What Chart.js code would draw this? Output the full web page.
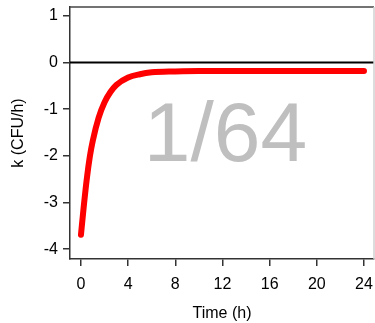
<!DOCTYPE html>
<html>
<head>
<meta charset="utf-8">
<script src="https://cdn.jsdelivr.net/npm/chart.js@4"></script>
<style>
  html, body { margin: 0; padding: 0; background: #fff; }
  #wrap { width: 375px; height: 323px; }
</style>
</head>
<body>
<div id="wrap"><canvas id="grafico" width="375" height="323"></canvas></div>
<script>
// time (h) and growth rate k (CFU/h)
const tiempo = [0, 0.25, 0.5, 0.75, 1, 1.5, 2, 2.5, 3, 4, 5, 6, 8, 10, 12, 14, 16, 18, 20, 22, 24];
const tasaK = [-3.69, -3.05, -2.48, -2.02, -1.68, -1.18, -0.85, -0.63, -0.48, -0.32, -0.25, -0.21, -0.19, -0.18, -0.18, -0.18, -0.18, -0.18, -0.18, -0.18, -0.18];

const ticksX = [0, 4, 8, 12, 16, 20, 24];
const ticksY = [-4, -3, -2, -1, 0, 1];
const etiqueta = "1/64";

const fuente = "'Liberation Sans', Arial, Helvetica, sans-serif";

// black line at k = 0, the big gray label and the frame around the plot
const extras = {
    id: 'extras',
    beforeDatasetsDraw(chart) {
        const { ctx, chartArea, scales } = chart;
        const y0 = scales.y.getPixelForValue(0);
        ctx.save();
        ctx.strokeStyle = '#000';
        ctx.lineWidth = 2;
        ctx.beginPath();
        ctx.moveTo(chartArea.left, y0);
        ctx.lineTo(chartArea.right, y0);
        ctx.stroke();

        ctx.fillStyle = '#bfbfbf';
        ctx.font = '84px ' + fuente;
        ctx.textAlign = 'center';
        ctx.textBaseline = 'alphabetic';
        ctx.fillText(etiqueta, scales.x.getPixelForValue(12.26), scales.y.getPixelForValue(-2.12));
        ctx.restore();
    },
    afterDraw(chart) {
        const { ctx, chartArea } = chart;
        ctx.save();
        ctx.lineWidth = 1.5;
        ctx.strokeStyle = '#444';
        ctx.beginPath();
        ctx.moveTo(chartArea.left, chartArea.top);
        ctx.lineTo(chartArea.right, chartArea.top);
        ctx.stroke();
        ctx.strokeStyle = '#d0d0d0';
        ctx.beginPath();
        ctx.moveTo(chartArea.right, chartArea.top);
        ctx.lineTo(chartArea.right, chartArea.bottom);
        ctx.stroke();
        ctx.restore();
    }
};

const ctx = document.getElementById('grafico').getContext('2d');

const myChart = new Chart(ctx, {
    type: 'line',
    data: {
        datasets: [{
            data: tiempo.map((t, i) => ({ x: t, y: tasaK[i] })),
            borderColor: '#ff0000',
            borderWidth: 6,
            borderCapStyle: 'round',
            borderJoinStyle: 'round',
            pointRadius: 0,
            cubicInterpolationMode: 'monotone',
            fill: false
        }]
    },
    options: {
        responsive: false,
        animation: false,
        devicePixelRatio: 1,
        layout: { padding: { top: 7, right: 1, left: 0, bottom: 0 } },
        plugins: {
            legend: { display: false },
            tooltip: { enabled: false }
        },
        scales: {
            x: {
                type: 'linear',
                min: -0.93,
                max: 24.85,
                afterBuildTicks: (s) => { s.ticks = ticksX.map(v => ({ value: v })); },
                afterFit: (s) => { s.height = 64; s.paddingLeft = 0; s.paddingRight = 0; },
                grid: { drawOnChartArea: false, drawTicks: true, tickLength: 7, tickColor: '#333', lineWidth: 1.5 },
                border: { color: '#333', width: 1.5 },
                ticks: { color: '#000', font: { family: fuente, size: 16 }, padding: 9, maxRotation: 0 },
                title: { display: true, text: 'Time (h)', color: '#000', font: { family: fuente, size: 16 }, padding: { top: 0, bottom: 0 } }
            },
            y: {
                min: -4.21,
                max: 1.19,
                afterBuildTicks: (s) => { s.ticks = ticksY.map(v => ({ value: v })); },
                afterFit: (s) => { s.width = 70; s.paddingTop = 0; s.paddingBottom = 0; },
                grid: { drawOnChartArea: false, drawTicks: true, tickLength: 7, tickColor: '#333', lineWidth: 1.5 },
                border: { color: '#333', width: 1.5 },
                ticks: { color: '#000', font: { family: fuente, size: 16 }, padding: 5 },
                title: { display: true, text: 'k (CFU/h)', color: '#000', font: { family: fuente, size: 16 }, padding: { top: 9, bottom: 0 } }
            }
        }
    },
    plugins: [extras]
});
</script>
</body>
</html>
